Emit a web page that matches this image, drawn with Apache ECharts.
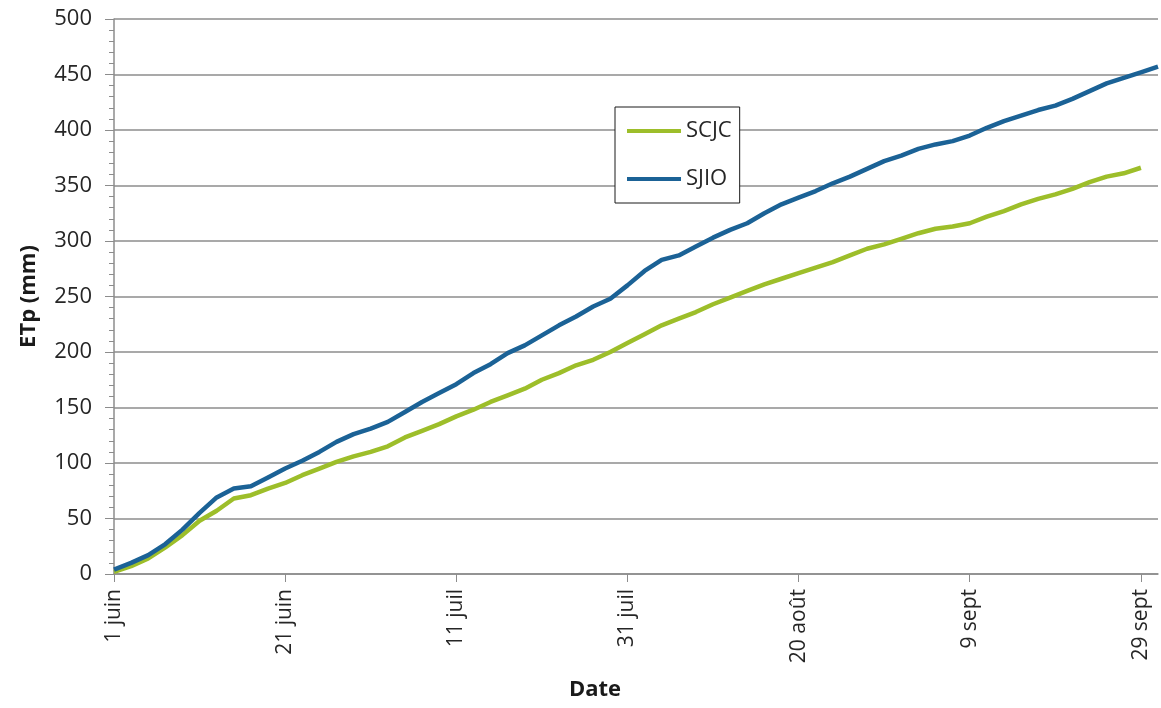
<!DOCTYPE html>
<html>
<head>
<meta charset="utf-8">
<script src="https://cdn.jsdelivr.net/npm/echarts@6/dist/echarts.min.js"></script>
<style>
  html, body { margin: 0; padding: 0; background: #fff; }
  #main { width: 1161px; height: 708px; }
</style>
</head>
<body>
<div id="main"></div>
<script>
// jours depuis le 1 juin
var days = [0, 2, 4, 6, 8, 10, 12, 14, 16, 18, 20, 22, 24, 26, 28, 30, 32, 34, 36, 38,
  40, 42, 44, 46, 48, 50, 52, 54, 56, 58, 60, 62, 64, 66, 68, 70, 72, 74, 76, 78,
  80, 82, 84, 86, 88, 90, 92, 94, 96, 98, 100, 102, 104, 106, 108, 110, 112, 114, 116, 118,
  120, 122];
var scjc = [2, 7, 14, 24, 35, 48, 57, 68, 71, 77, 82, 89, 95, 101, 106, 110, 115, 123, 129, 135,
  142, 148, 155, 161, 167, 175, 181, 188, 193, 200, 208, 216, 224, 230, 236, 243, 249, 255, 261, 266,
  271, 276, 281, 287, 293, 297, 302, 307, 311, 313, 316, 322, 327, 333, 338, 342, 347, 353, 358, 361,
  366, null];
var sjio = [4, 10, 17, 27, 40, 55, 69, 77, 79, 87, 95, 102, 110, 119, 126, 131, 137, 146, 155, 163,
  171, 181, 189, 199, 206, 215, 224, 232, 241, 248, 260, 273, 283, 287, 295, 303, 310, 316, 325, 333,
  339, 345, 352, 358, 365, 372, 377, 383, 387, 390, 395, 402, 408, 413, 418, 422, 428, 435, 442, 447,
  452, 457];
var tickLabels = ['1 juin', '21 juin', '11 juil', '31 juil', '20 août', '9 sept', '29 sept'];

var tickDays = tickLabels.map(function (l, i) { return i * 20; });
function pairs(vals) {
  return days.map(function (d, i) { return [d, vals[i]]; });
}

var chart = echarts.init(document.getElementById('main'));
var font = '"Open Sans", "Noto Sans", sans-serif';
var gray = '#8c8c8c';

chart.setOption({
  animation: false,
  textStyle: { fontFamily: font },
  grid: { left: 114, right: 3, top: 19, bottom: 134, outerBoundsMode: 'none' },
  legend: {
    orient: 'vertical',
    left: 615, top: 107,
    padding: [12, 8, 12, 12],
    itemGap: 24,
    itemWidth: 54, itemHeight: 4,
    itemTextGap: 7,
    icon: 'rect',
    backgroundColor: '#fff',
    borderColor: '#1a1a1a', borderWidth: 1,
    textStyle: { fontSize: 22, lineHeight: 24, color: '#262626', fontFamily: font },
    data: ['SCJC', 'SJIO']
  },
  xAxis: {
    type: 'value',
    min: 0, max: 122,
    name: 'Date',
    nameLocation: 'middle',
    nameGap: 105,
    nameTextStyle: { fontSize: 22, fontWeight: 'bold', color: '#1a1a1a', padding: [0, 82, 0, 0] },
    axisLine: { lineStyle: { color: gray, width: 1.5 } },
    axisTick: { show: true, length: 8, lineStyle: { color: gray }, customValues: tickDays },
    axisLabel: {
      rotate: 90, fontSize: 21, color: '#262626', margin: 15,
      customValues: tickDays,
      formatter: function (v) { return tickLabels[Math.round(v / 20)] || ''; }
    },
    splitLine: { show: false }
  },
  yAxis: {
    type: 'value',
    min: 0, max: 500, interval: 50,
    name: 'ETp (mm)',
    nameLocation: 'middle',
    nameGap: 74,
    nameTextStyle: { fontSize: 22, fontWeight: 'bold', color: '#1a1a1a' },
    axisLine: { show: true, lineStyle: { color: gray, width: 1.5 } },
    axisTick: { show: true, length: 9, lineStyle: { color: gray } },
    minorTick: { show: true, splitNumber: 5, length: 5, lineStyle: { color: gray } },
    axisLabel: { fontSize: 22, color: '#262626', margin: 22 },
    splitLine: { show: true, lineStyle: { color: gray, width: 1.5 } }
  },
  series: [
    {
      name: 'SCJC', type: 'line', symbol: 'none',
      data: pairs(scjc),
      color: '#9dbe2a',
      lineStyle: { width: 4.5, color: '#9dbe2a' }
    },
    {
      name: 'SJIO', type: 'line', symbol: 'none',
      data: pairs(sjio),
      color: '#1b6296',
      lineStyle: { width: 4.5, color: '#1b6296' }
    }
  ]
});
</script>
</body>
</html>
